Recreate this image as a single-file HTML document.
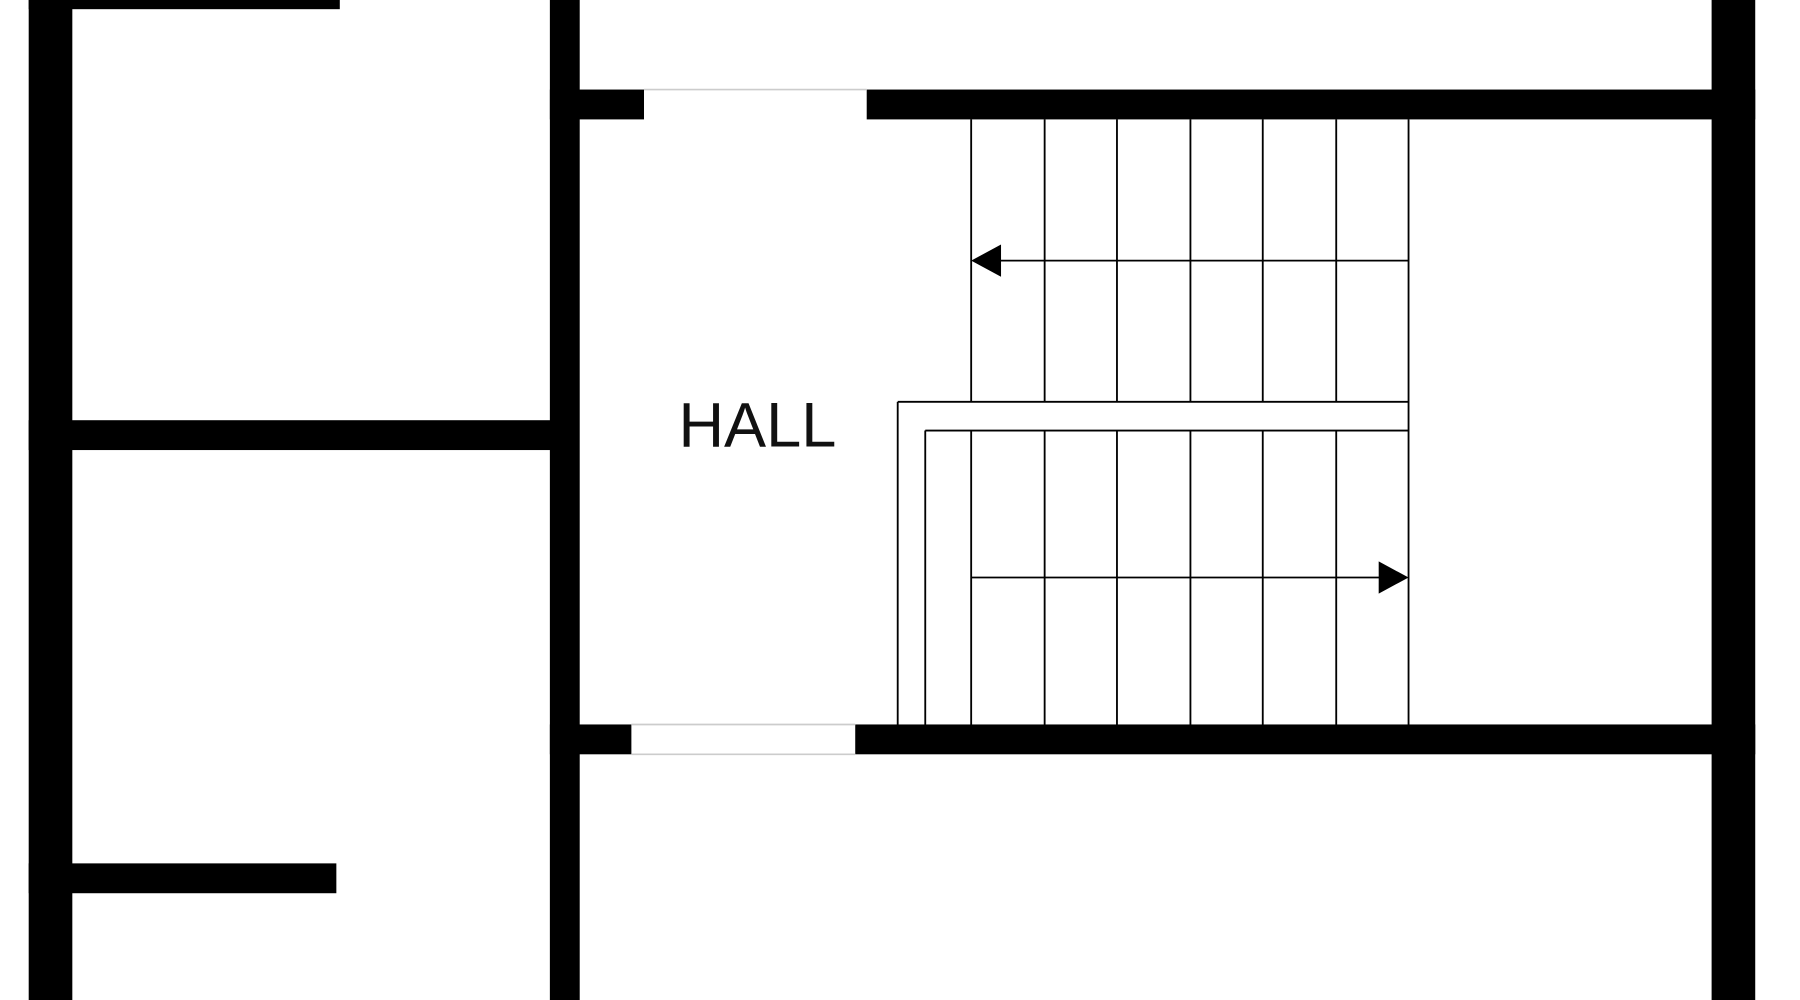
<!DOCTYPE html>
<html><head><meta charset="utf-8"><style>
html,body{margin:0;padding:0;background:#fff;width:1800px;height:1000px;overflow:hidden}
svg{display:block}
</style></head><body>
<svg width="1800" height="1000" viewBox="0 0 1568 871" preserveAspectRatio="none" xmlns="http://www.w3.org/2000/svg">
<rect width="1568" height="871" fill="#fff"/>
<g fill="#000">
<rect x="25" y="0" width="38" height="871"/>
<rect x="25" y="0" width="271" height="8"/>
<rect x="25" y="366" width="455" height="26"/>
<rect x="25" y="752" width="268" height="26"/>
<rect x="479" y="0" width="26" height="871"/>
<rect x="1491" y="0" width="38" height="871"/>
<rect x="479" y="78" width="82" height="26"/>
<rect x="755" y="78" width="774" height="26"/>
<rect x="479" y="631" width="71" height="26"/>
<rect x="745" y="631" width="784" height="26"/>
</g>
<g stroke="#ccc" stroke-width="1.5">
<line x1="561" y1="78" x2="755" y2="78"/>
<line x1="550" y1="631" x2="745" y2="631"/>
<line x1="550" y1="657" x2="745" y2="657"/>
</g>
<g stroke="#000" stroke-width="1.6" fill="none">
<line x1="846" y1="104" x2="846" y2="350"/>
<line x1="910" y1="104" x2="910" y2="350"/>
<line x1="973" y1="104" x2="973" y2="350"/>
<line x1="1037" y1="104" x2="1037" y2="350"/>
<line x1="1100" y1="104" x2="1100" y2="350"/>
<line x1="1164" y1="104" x2="1164" y2="350"/>
<line x1="846" y1="375" x2="846" y2="631"/>
<line x1="910" y1="375" x2="910" y2="631"/>
<line x1="973" y1="375" x2="973" y2="631"/>
<line x1="1037" y1="375" x2="1037" y2="631"/>
<line x1="1100" y1="375" x2="1100" y2="631"/>
<line x1="1164" y1="375" x2="1164" y2="631"/>
<line x1="1227" y1="104" x2="1227" y2="631"/>
<line x1="782" y1="350" x2="1227" y2="350"/>
<line x1="806" y1="375" x2="1227" y2="375"/>
<line x1="782" y1="350" x2="782" y2="631"/>
<line x1="806" y1="375" x2="806" y2="631"/>
<line x1="870" y1="227" x2="1227" y2="227"/>
<line x1="846" y1="503" x2="1203" y2="503"/>
</g>
<polygon points="846,227 872,213 872,241" fill="#000"/>
<polygon points="1227,503 1201,489 1201,517" fill="#000"/>
<text x="591" y="389" font-family="Liberation Sans, sans-serif" font-size="55" fill="#111">HALL</text>
</svg>
</body></html>
